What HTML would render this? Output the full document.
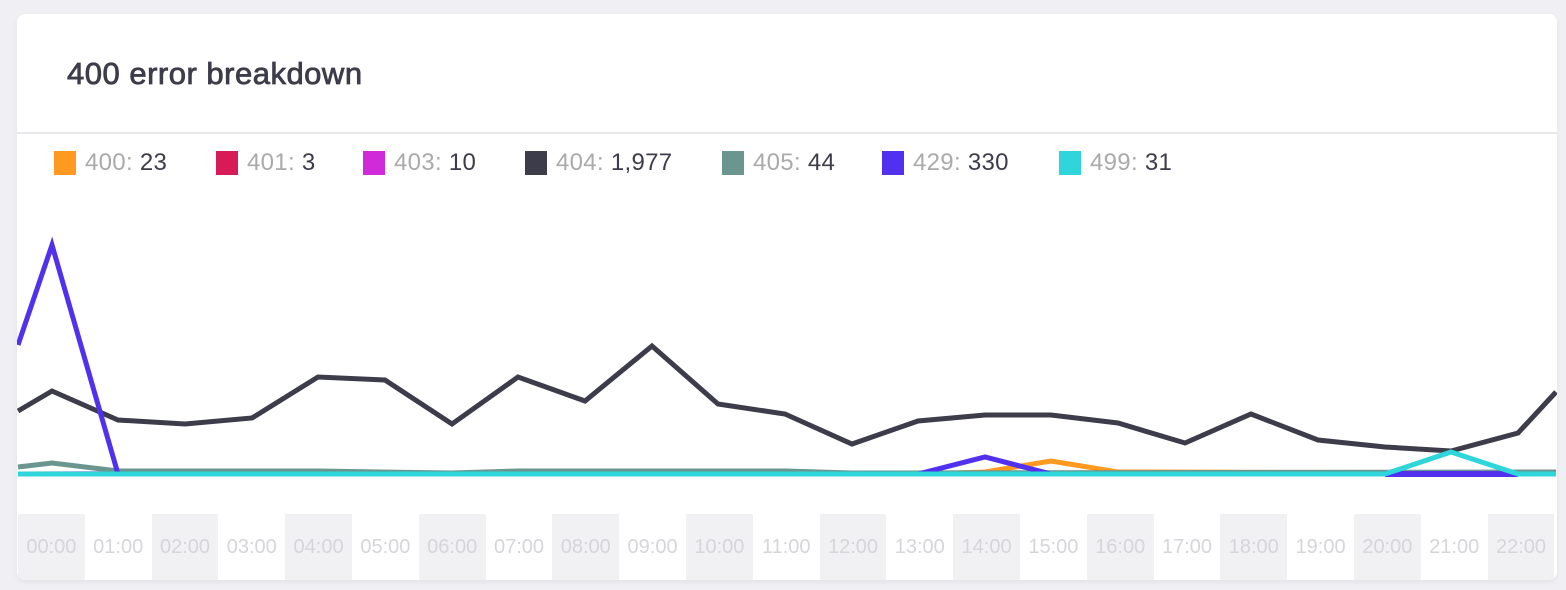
<!DOCTYPE html>
<html><head><style>
body{margin:0;background:#f0f0f4;width:1566px;height:590px;overflow:hidden;font-family:"Liberation Sans",sans-serif}
.card{position:absolute;left:17px;top:14px;width:1540px;height:566px;background:#fff;border-radius:8px;box-shadow:0 2px 6px rgba(0,0,0,.06);overflow:hidden}
h1{position:absolute;left:50px;top:42px;margin:0;font-size:31px;font-weight:normal;color:#3d3c4a;letter-spacing:0.5px;-webkit-text-stroke:0.8px #3d3c4a}
.div{position:absolute;left:0;right:0;top:118px;height:2px;background:#e8e8ec}
.leg{position:absolute;top:135px;font-size:24px;color:#3d3c4a;display:flex;align-items:center;letter-spacing:0.3px}
.leg i{display:inline-block;width:22px;height:24px;margin-right:9px}
.leg span{color:#aaa}
.band{position:absolute;top:500px;height:66px;width:66.8px;font-size:20px;color:#d6d6da;text-align:center;line-height:66px}
</style></head><body>
<div class="card">
<h1>400 error breakdown</h1>
<div class="div"></div>
<div class="leg" style="left:37px"><i style="background:#ff991f"></i><span>400:</span>&nbsp;23</div>
<div class="leg" style="left:199px"><i style="background:#d81b56"></i><span>401:</span>&nbsp;3</div>
<div class="leg" style="left:346px"><i style="background:#d12bd9"></i><span>403:</span>&nbsp;10</div>
<div class="leg" style="left:508px"><i style="background:#3d3c4a"></i><span>404:</span>&nbsp;1,977</div>
<div class="leg" style="left:705px"><i style="background:#6b9690"></i><span>405:</span>&nbsp;44</div>
<div class="leg" style="left:865px"><i style="background:#5130ee"></i><span>429:</span>&nbsp;330</div>
<div class="leg" style="left:1042px"><i style="background:#2ed5da"></i><span>499:</span>&nbsp;31</div>
<div id="bands"></div>
<svg style="position:absolute;left:-17px;top:-14px" width="1566" height="590">
<g fill="none" stroke-width="5" stroke-linejoin="miter">
<polyline stroke="#ff991f" points="18,474 918,474 985,472 1051,461 1118,472 1556,473"/>
<polyline stroke="#d12bd9" points="18,474 318,473 385,473 452,474 1556,474"/>
<polyline stroke="#6b9690" points="18,467 52,463 118,471 318,471 452,473 518,471 785,471 852,473 1556,472"/>
<polyline stroke="#3d3c4a" stroke-width="5" points="18,411 52,391 118,420 185,424 252,418 318,377 385,380 452,424 518,377 585,401 652,346 718,404 785,414 852,444 918,421 985,415 1051,415 1118,423 1185,443 1251,414 1318,440 1385,447 1451,451 1518,433 1556,392"/>
<polyline stroke="#5130ee" points="18,345 52,245 118,474 918,474 985,457 1051,474 1385,474 1518,474 1556,474"/>
<polygon fill="#5130ee" stroke="none" points="1385,471 1518,471 1518,477 1385,477"/>
<polyline stroke="#2ed5da" points="18,474 1385,474 1451,452 1518,474 1556,474"/>
</g></svg>
</div>
<script>
var b=document.getElementById('bands'),h='';
for(var i=0;i<23;i++){var x=1+66.8*i;h+='<div class="band" style="left:'+x+'px;background:'+(i%2?'#fff':'#f1f1f4')+'">'+(i<10?'0':'')+i+':00</div>';}
b.innerHTML=h;
</script>
</body></html>
